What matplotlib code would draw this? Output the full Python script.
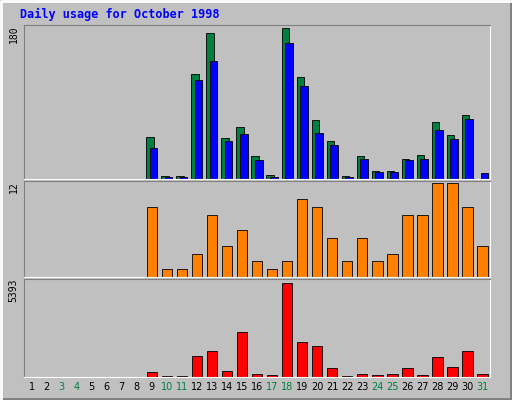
import matplotlib
matplotlib.use("Agg")
import matplotlib.pyplot as plt
from matplotlib.patches import Rectangle

days = list(range(1, 32))
weekend_days = [3, 4, 10, 11, 17, 18, 24, 25, 31]
hits = [0]*8 + [50, 3, 3, 125, 174, 49, 62, 28, 5, 180, 122, 70, 45, 3, 27, 10, 10, 24, 29, 68, 52, 76, 0]
files = [0]*8 + [37, 2, 2, 118, 141, 45, 54, 23, 2, 163, 111, 55, 41, 2, 24, 8, 8, 23, 24, 58, 48, 72, 7]
sites = [0]*8 + [9, 1, 1, 3, 8, 4, 6, 2, 1, 2, 10, 9, 5, 2, 5, 2, 3, 8, 8, 12, 12, 9, 4]
kbytes = [0]*8 + [300, 60, 60, 1185, 1480, 355, 2550, 180, 100, 5393, 2015, 1780, 530, 60, 180, 110, 180, 530, 110, 1125, 590, 1480, 180]

W, H = 512, 400
bg = "#C0C0C0"
fig = plt.figure(figsize=(W/100, H/100), dpi=100, facecolor=bg)

# raised frame
frame = fig.add_axes([0, 0, 1, 1])
frame.set_xlim(0, W); frame.set_ylim(H, 0); frame.axis("off")
frame.plot([1, W-1, W-1], [H-1, H-1, 1], color="#808080", lw=2)
frame.plot([1, 1, W-1], [H-1, 1, 1], color="white", lw=2)
frame.text(20, 14, "Daily usage for October 1998", color="#0000FF", family="DejaVu Sans Mono",
           fontweight="bold", fontsize=8.5, va="center")

x0, x1 = 24, 490
def mk(top, bot):
    ax = fig.add_axes([x0/W, 1-bot/H, (x1-x0)/W, (bot-top)/H])
    ax.set_facecolor(bg)
    ax.set_xlim(0.5, 31.5)
    ax.set_xticks([]); ax.set_yticks([])
    for s, c in [("top", "#808080"), ("left", "#808080"), ("right", "white"), ("bottom", "white")]:
        ax.spines[s].set_color(c)
    return ax

ax1 = mk(25, 179)
ax1.bar([d-0.12 for d in days], hits, width=0.5, color="#008040", edgecolor="black", lw=0.6)
ax1.bar([d+0.12 for d in days], files, width=0.5, color="#0000FF", edgecolor="black", lw=0.6)
ax1.set_ylim(0, 184)
ax1.text(-0.012, 1, "180", transform=ax1.transAxes, rotation=90, ha="right", va="top", fontsize=7, family="DejaVu Sans Mono")

ax2 = mk(181, 277)
ax2.bar(days, sites, width=0.7, color="#FF8000", edgecolor="black", lw=0.6)
ax2.set_ylim(0, 12.3)
ax2.text(-0.012, 1, "12", transform=ax2.transAxes, rotation=90, ha="right", va="top", fontsize=7, family="DejaVu Sans Mono")

ax3 = mk(279, 377)
ax3.bar(days, kbytes, width=0.7, color="#FF0000", edgecolor="black", lw=0.6)
ax3.set_ylim(0, 5393*1.04)
ax3.text(-0.012, 1, "5393", transform=ax3.transAxes, rotation=90, ha="right", va="top", fontsize=7, family="DejaVu Sans Mono")

for d in days:
    ax3.text(d, -0.1, str(d), transform=ax3.get_xaxis_transform(), ha="center", va="center",
             fontsize=7, color="#008040" if d in weekend_days else "black")

fig.savefig("out.png", dpi=100, facecolor=bg)
